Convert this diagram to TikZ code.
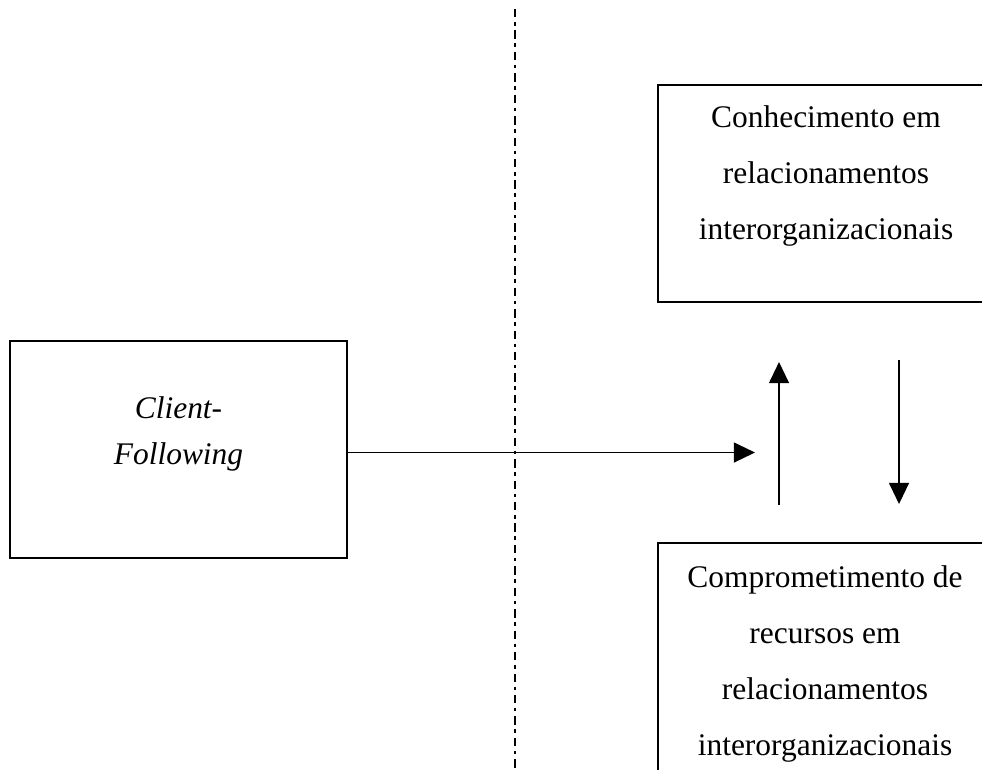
\documentclass[tikz,border=0pt]{standalone}
\usepackage{fontspec}
\setmainfont{Liberation Serif}
\usetikzlibrary{arrows.meta,calc}
\tikzset{
  box/.style={
    rectangle,
    draw=black, line width=1.1pt,
    minimum width=6.74cm,
    inner sep=0pt},
  boxtext/.style={
    align=center, inner sep=0pt,
    font=\fontsize{17.9}{31.8}\selectfont},
  flow/.style={->, line width=1pt},
  divider/.style={line width=0.75pt, dash pattern=on 4.8pt off 2.6pt on 2pt off 2.8pt},
}
\tikzset{>={Triangle[length=12pt,width=11.3pt]}}

\begin{document}
\begin{tikzpicture}[x=0.02cm,y=-0.02cm]
\useasboundingbox (0,0) rectangle (982,769);
\clip (0,0) rectangle (982,769);

\node[box, minimum height=4.34cm] at (178.5,449.5) (client) {};
\node[boxtext, font=\fontsize{17.9}{26.6}\selectfont\itshape] at (178.5,434) (clienttxt) {Client-\\Following};

\node[box, minimum height=4.34cm] at (826.5,193.5) (knowledge) {};
\node[boxtext] at (826,176) (knowtxt) {Conhecimento em\\relacionamentos\\interorganizacionais};

\node[box, minimum height=5cm] at (826.5,668) (commit) {};
\node[boxtext] at (825,664) (committxt) {Comprometimento de\\recursos em\\relacionamentos\\interorganizacionais};

\coordinate (divtop) at (515,9);
\coordinate (divbot) at (515,780);
\coordinate (split) at (755,452.5);
\coordinate (upfrom) at (779,505);
\coordinate (upto) at (779,362);
\coordinate (downfrom) at (899,360);
\coordinate (downto) at (899,504);

\draw[divider] (divtop) -- (divbot);

\draw[flow] (client.east |- split) -- (split);
\draw[flow] (upfrom) -- (upto);
\draw[flow] (downfrom) -- (downto);
\end{tikzpicture}
\end{document}
